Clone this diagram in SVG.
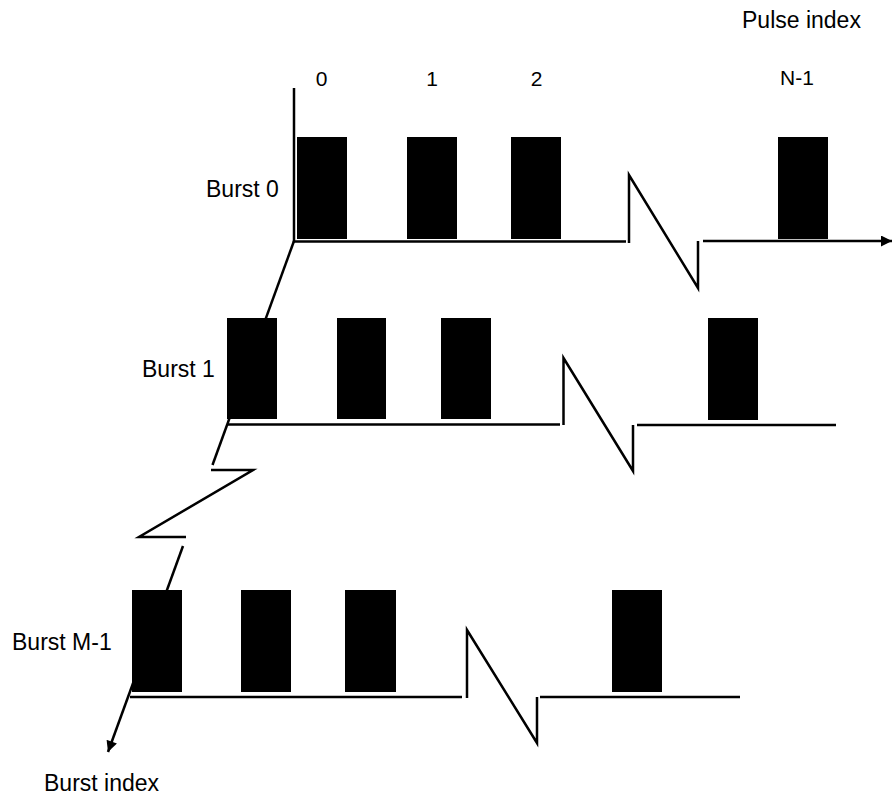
<svg xmlns="http://www.w3.org/2000/svg" width="893" height="799" viewBox="0 0 893 799">
<style>
  .ln { stroke:#000; stroke-width:2.5; fill:none; stroke-linejoin:miter; }
  .p { fill:#000; }
  .t { font-family:"Liberation Sans", Arial, sans-serif; font-size:23px; fill:#000; }
  .d { font-family:"Liberation Sans", Arial, sans-serif; font-size:21px; fill:#000; }
</style>
<defs>
  <marker id="arr" viewBox="0 0 10 10" refX="10" refY="5" markerWidth="12" markerHeight="11" markerUnits="userSpaceOnUse" orient="auto">
    <path d="M0,0 L10,5 L0,10 z" fill="#000"/>
  </marker>
</defs>
<rect width="893" height="799" fill="#fff"/>

<g id="labels">
  <text class="t" x="742" y="28">Pulse index</text>
  <text class="d" x="321.5" y="86" text-anchor="middle">0</text>
  <text class="d" x="432" y="86" text-anchor="middle">1</text>
  <text class="d" x="536.5" y="86" text-anchor="middle">2</text>
  <text class="d" x="780" y="85">N-1</text>
  <text class="t" x="44" y="791">Burst index</text>
</g>

<g id="connectors">
  <line class="ln" x1="294" y1="241" x2="212.5" y2="465"/>
  <polyline class="ln" points="211,470 253,470 139,537 186,537"/>
  <line class="ln" x1="183" y1="546" x2="108" y2="752" marker-end="url(#arr)"/>
</g>

<g id="burst0">
  <text class="t" x="206" y="197">Burst 0</text>
  <line class="ln" x1="294" y1="88" x2="294" y2="242"/>
  <line class="ln" x1="294" y1="241.5" x2="626" y2="241.5"/>
  <polyline class="ln" points="629,243 629,175 698,288 698,241"/>
  <line class="ln" x1="703" y1="241" x2="892" y2="241" marker-end="url(#arr)"/>
  <rect class="p" x="297" y="137" width="50" height="102"/>
  <rect class="p" x="407" y="137" width="50" height="102"/>
  <rect class="p" x="511" y="137" width="50" height="102"/>
  <rect class="p" x="778" y="137" width="50" height="102"/>
</g>

<g id="burst1">
  <text class="t" x="142" y="377">Burst 1</text>
  <line class="ln" x1="228" y1="424.5" x2="560" y2="424.5"/>
  <polyline class="ln" points="563.5,425 563.5,358 633,471 633,425"/>
  <line class="ln" x1="637" y1="425" x2="836" y2="425"/>
  <rect class="p" x="227" y="318" width="50" height="101"/>
  <rect class="p" x="337" y="318" width="49" height="101"/>
  <rect class="p" x="441" y="318" width="50" height="101"/>
  <rect class="p" x="708" y="318" width="50" height="102"/>
</g>

<g id="burstM1">
  <text class="t" x="12" y="650">Burst M-1</text>
  <line class="ln" x1="130" y1="697" x2="462" y2="697"/>
  <polyline class="ln" points="467,698 467,630 537,743 537,697"/>
  <line class="ln" x1="540" y1="697" x2="740" y2="697"/>
  <rect class="p" x="132" y="590" width="50" height="102"/>
  <rect class="p" x="241" y="590" width="50" height="102"/>
  <rect class="p" x="345" y="590" width="51" height="102"/>
  <rect class="p" x="612" y="590" width="50" height="102"/>
</g>
</svg>
